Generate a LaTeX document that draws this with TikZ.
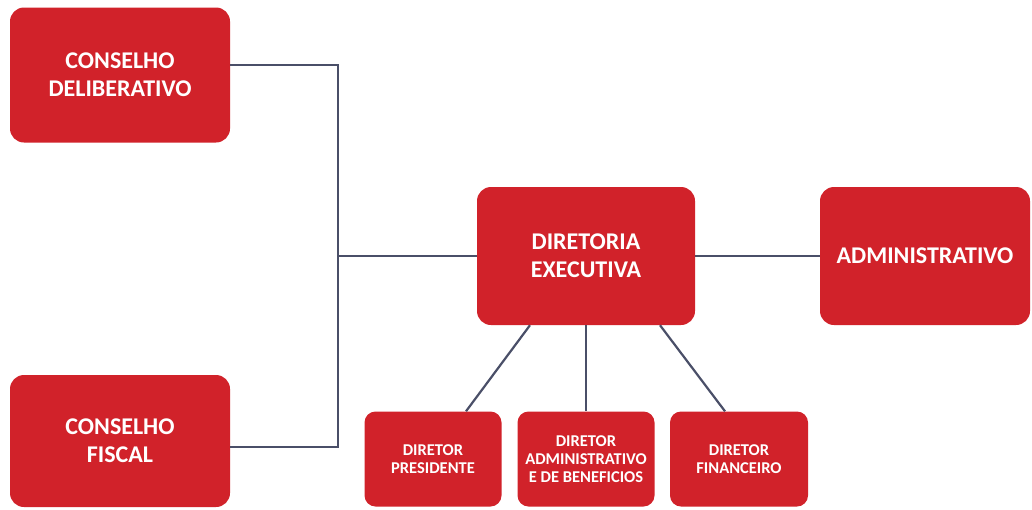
\documentclass[tikz,border=0pt]{standalone}
\usepackage{fontspec}
\setmainfont{Carlito}
\definecolor{boxred}{HTML}{D1222A}
\definecolor{linecol}{HTML}{4A4F68}
\begin{document}
\begin{tikzpicture}[x=1pt,y=-1pt,
  box/.style={fill=boxred,rounded corners=14pt,text=white,align=center,font=\bfseries\fontsize{24}{28}\selectfont,inner sep=0pt},
  smallbox/.style={box,rounded corners=11pt,font=\bfseries\fontsize{16.5}{18}\selectfont},
  conn/.style={draw=linecol,line width=2.2pt}]
\useasboundingbox (0,0) rectangle (1032,509);
\node[box,minimum width=220pt,minimum height=135pt] (cd) at (120,75) {CONSELHO\\DELIBERATIVO};
\node[box,minimum width=220pt,minimum height=132pt] (cf) at (120,441) {CONSELHO\\FISCAL};
\node[box,minimum width=218pt,minimum height=138pt] (de) at (586,256) {DIRETORIA\\EXECUTIVA};
\node[box,minimum width=210pt,minimum height=138pt] (adm) at (925,256) {ADMINISTRATIVO};
\node[smallbox,minimum width=137pt,minimum height=95pt] (dp) at (433,459) {DIRETOR\\PRESIDENTE};
\node[smallbox,minimum width=137pt,minimum height=95pt] (da) at (586,459) {DIRETOR\\ADMINISTRATIVO\\E DE BENEFICIOS};
\node[smallbox,minimum width=138pt,minimum height=95pt] (df) at (739,459) {DIRETOR\\FINANCEIRO};
\coordinate (jt) at (338,65);
\coordinate (jb) at (338,447);
\draw[conn] (cd.east|-jt) -- (jt) -- (jb) -- (cf.east|-jb);
\draw[conn] (de.west) -- (de.west-|jt);
\draw[conn] (de.east) -- (adm.west);
\draw[conn] ([xshift=-56pt]de.south) -- ([xshift=33pt]dp.north);
\draw[conn] (de.south) -- (da.north);
\draw[conn] ([xshift=74pt]de.south) -- ([xshift=-14pt]df.north);
\end{tikzpicture}
\end{document}
